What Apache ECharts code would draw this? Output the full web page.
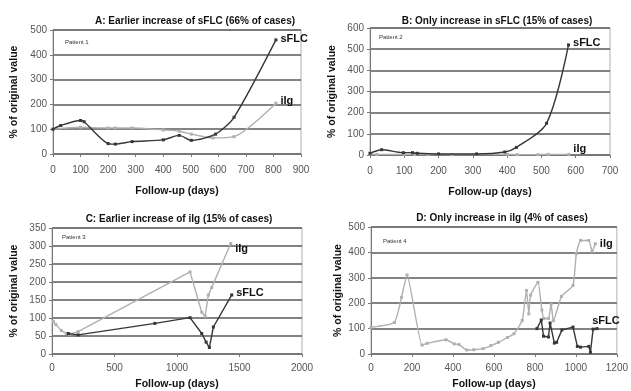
<!DOCTYPE html>
<html>
<head>
<meta charset="utf-8">
<script src="https://cdn.jsdelivr.net/npm/echarts@6/dist/echarts.min.js"></script>
<style>
  html, body { margin: 0; padding: 0; background: #fff; }
  #chart { width: 631px; height: 391px; }
</style>
</head>
<body>
<div id="chart"></div>
<script>
// Panel A: Patient 1
const daysA_sflc = [0, 28, 100, 113, 200, 226, 287, 400, 458, 502, 590, 657, 809];
const sflcA      = [100, 115, 135, 130, 42, 40, 50, 57, 75, 55, 80, 148, 460];
const daysA_iig  = [0, 100, 200, 226, 287, 400, 458, 502, 581, 657, 809];
const iigA       = [100, 108, 105, 105, 105, 97, 92, 80, 65, 70, 205];

// Panel B: Patient 2
const daysB_sflc = [0, 34, 97, 124, 138, 200, 311, 393, 427, 515, 579];
const sflcB      = [8, 25, 11, 11, 8, 5, 5, 14, 36, 150, 520];
const daysB_iig  = [0, 20, 100, 130, 170, 200, 240, 310, 400, 430, 490, 520, 580];
const iigB       = [5, 3, 3, 3, 2, 3, 2, 3, 3, 2, 2, 3, 3];

// Panel C: Patient 3
const daysC_iig  = [12, 30, 75, 115, 142, 209, 1104, 1198, 1225, 1251, 1278, 1430];
const iigC       = [90, 82, 65, 57, 55, 62, 228, 116, 105, 164, 185, 307];
const daysC_sflc = [130, 209, 823, 1104, 1198, 1233, 1259, 1291, 1438];
const sflcC      = [57, 53, 85, 101, 57, 33, 18, 75, 164];

// Panel D: Patient 4
const daysD_iig  = [0, 114, 149, 176, 249, 274, 366, 406, 430, 467, 502, 547, 585, 622, 666, 698,
                    738, 759, 770, 779, 815, 834, 844, 866, 879, 890, 930, 986, 1002, 1023, 1063, 1079, 1095];
const iigD       = [105, 124, 223, 311, 35, 42, 56, 40, 37, 16, 17, 21, 33, 46, 65, 80,
                    132, 250, 158, 232, 282, 173, 140, 140, 196, 131, 227, 270, 395, 447, 447, 404, 434];
const daysD_sflc = [810, 831, 842, 866, 874, 895, 906, 932, 986, 1007, 1023, 1063, 1071, 1084, 1103];
const sflcD      = [100, 134, 70, 67, 122, 43, 46, 95, 106, 30, 27, 30, 7, 98, 100];

const titles = [
  'A: Earlier increase of sFLC (66% of cases)',
  'B: Only increase in sFLC (15% of cases)',
  'C: Earlier increase of iIg (15% of cases)',
  'D: Only increase in iIg (4% of cases)'
];
const patients = ['Patient 1', 'Patient 2', 'Patient 3', 'Patient 4'];

const FONT = '"Liberation Sans", Arial, sans-serif';
const DARK = '#363636';
const LIGHT = '#b0b0b0';

// plot rectangles (left, top, width, height)
const grids = [
  { left: 53,  top: 30,  width: 248, height: 124 },
  { left: 370, top: 28,  width: 240, height: 127 },
  { left: 52,  top: 228, width: 250, height: 128 },
  { left: 371, top: 227, width: 249, height: 128 }
];
const xScales = [[0, 900, 100], [0, 700, 100], [0, 2000, 500], [0, 1200, 200]];
const yScales = [[0, 500, 100], [0, 600, 100], [0, 350, 50], [0, 500, 100]];

function pairs(xs, ys, labelText, labelOpt) {
  return xs.map((x, i) => {
    const item = { value: [x, ys[i]] };
    if (i === xs.length - 1) {
      item.label = Object.assign({
        show: true, formatter: labelText, position: 'right', distance: 3,
        fontFamily: FONT, fontWeight: 'bold', fontSize: 11, color: '#111'
      }, labelOpt || {});
    }
    return item;
  });
}

function lineSeries(idx, xs, ys, color, name, labelOpt, smooth) {
  return {
    type: 'line', xAxisIndex: idx, yAxisIndex: idx, name: name,
    data: pairs(xs, ys, name, labelOpt),
    smooth: smooth, symbol: 'rect', symbolSize: 3, showAllSymbol: true,
    lineStyle: { color: color, width: 1.4 },
    itemStyle: { color: color },
    animation: false, z: color === DARK ? 4 : 3
  };
}

const titleCenters = [[190, 11], [492, 11], [174, 209], [497, 208]];

const option = {
  backgroundColor: '#fff',
  animation: false,
  title: titles.map((t, i) => ({
    text: t, left: titleCenters[i][0], top: titleCenters[i][1], textAlign: 'center',
    textStyle: { fontFamily: FONT, fontWeight: 'bold', fontSize: 10, color: '#111' }
  })),
  grid: grids.map(g => Object.assign({
    show: true, borderColor: '#b0b0b0', borderWidth: 1, backgroundColor: '#fff'
  }, g)),
  xAxis: xScales.map((s, i) => ({
    type: 'value', gridIndex: i, min: s[0], max: s[1], interval: s[2],
    name: 'Follow-up (days)', nameLocation: 'middle', nameGap: i < 2 ? 32 : 25,
    nameTextStyle: { fontFamily: FONT, fontWeight: 'bold', fontSize: 10.5, color: '#111' },
    axisLine: { show: true, lineStyle: { color: '#777', width: 1 } },
    axisTick: { show: true, length: 3, lineStyle: { color: '#777' } },
    axisLabel: {
      fontFamily: FONT, fontSize: 10, color: '#555', margin: i < 2 ? 11 : 9,
      formatter: v => String(v)
    },
    splitLine: { show: false }
  })),
  yAxis: yScales.map((s, i) => ({
    type: 'value', gridIndex: i, min: s[0], max: s[1], interval: s[2],
    name: '% of original value', nameLocation: 'middle', nameRotate: 90,
    nameGap: [33, 32, 32, 27][i],
    nameTextStyle: { fontFamily: FONT, fontWeight: 'bold', fontSize: 10.5, color: '#111' },
    axisLine: { show: true, lineStyle: { color: '#777', width: 1 } },
    axisTick: { show: true, length: 3, lineStyle: { color: '#777' } },
    axisLabel: { fontFamily: FONT, fontSize: 10, color: '#555', margin: 6, formatter: v => String(v) },
    splitLine: { show: true, lineStyle: { color: '#5a5a5a', width: 1.7 } }
  })),
  graphic: grids.map((g, i) => ({
    type: 'text', left: g.left + [12, 9, 10, 12][i], top: g.top + [9, 6, 6, 11][i],
    style: { text: patients[i], fontFamily: FONT, fontSize: 6, fill: '#333' }
  })),
  series: [
    lineSeries(0, daysA_iig, iigA, LIGHT, 'iIg', { offset: [0, -2] }, 0.25),
    lineSeries(0, daysA_sflc, sflcA, DARK, 'sFLC', { offset: [0, -1] }, 0.25),
    lineSeries(1, daysB_iig, iigB, LIGHT, 'iIg', { offset: [0, -5] }, 0.25),
    lineSeries(1, daysB_sflc, sflcB, DARK, 'sFLC', { offset: [0, -2] }, 0.3),
    lineSeries(2, daysC_iig, iigC, LIGHT, 'iIg', { offset: [0, 5] }, 0),
    lineSeries(2, daysC_sflc, sflcC, DARK, 'sFLC', { offset: [0, -2] }, 0),
    lineSeries(3, daysD_iig, iigD, LIGHT, 'iIg', { offset: [0, 0] }, 0.15),
    lineSeries(3, daysD_sflc, sflcD, DARK, 'sFLC', { position: 'top', offset: [9, 2] }, 0)
  ]
};

const chart = echarts.init(document.getElementById('chart'), null, { renderer: 'canvas' });
chart.setOption(option);
</script>
</body>
</html>
